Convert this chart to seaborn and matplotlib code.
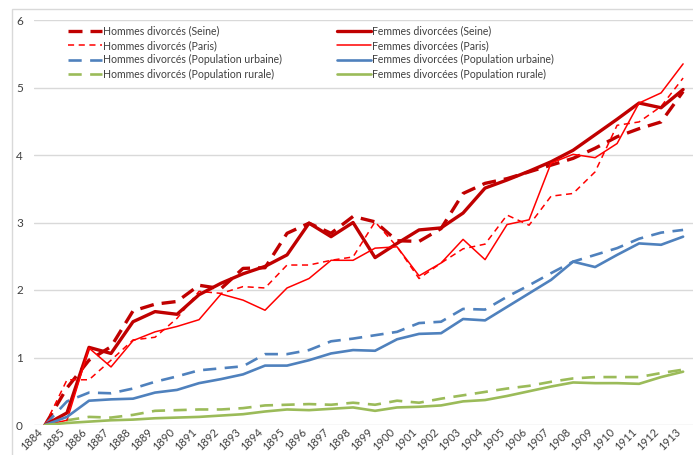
import pandas as pd
import matplotlib.pyplot as plt
import seaborn as sns
from matplotlib.patches import Rectangle

# 1. Datos (taux de divorcés)
annees = list(range(1884, 1914))

hommes_seine = [0, 0.55, 0.96, 1.16, 1.69, 1.79, 1.83, 2.07, 2.02, 2.32,
                2.33, 2.84, 2.99, 2.84, 3.09, 3.01, 2.73, 2.72, 2.91, 3.43,
                3.58, 3.65, 3.75, 3.85, 3.95, 4.10, 4.27, 4.39, 4.49, 4.94]
femmes_seine = [0, 0.18, 1.15, 1.06, 1.53, 1.68, 1.64, 1.93, 2.10, 2.24,
                2.35, 2.52, 2.99, 2.79, 3.00, 2.48, 2.69, 2.89, 2.92, 3.14,
                3.51, 3.63, 3.76, 3.90, 4.07, 4.30, 4.53, 4.77, 4.70, 4.97]
hommes_paris = [0, 0.67, 0.67, 0.96, 1.26, 1.30, 1.58, 1.98, 1.95, 2.05,
                2.03, 2.37, 2.37, 2.44, 2.49, 3.01, 2.64, 2.17, 2.40, 2.61,
                2.68, 3.11, 2.96, 3.39, 3.43, 3.75, 4.44, 4.49, 4.72, 5.14]
femmes_paris = [0, 0.07, 1.14, 0.86, 1.25, 1.38, 1.46, 1.56, 1.94, 1.85,
                1.70, 2.03, 2.17, 2.44, 2.44, 2.62, 2.64, 2.21, 2.40, 2.75,
                2.45, 2.97, 3.04, 3.88, 4.01, 3.96, 4.17, 4.77, 4.92, 5.35]
hommes_urbaine = [0, 0.35, 0.48, 0.47, 0.54, 0.64, 0.72, 0.81, 0.84, 0.87,
                  1.05, 1.05, 1.11, 1.24, 1.28, 1.33, 1.38, 1.51, 1.53, 1.72,
                  1.71, 1.90, 2.07, 2.25, 2.42, 2.52, 2.62, 2.76, 2.85, 2.89]
femmes_urbaine = [0, 0.12, 0.36, 0.38, 0.39, 0.48, 0.52, 0.62, 0.68, 0.75,
                  0.88, 0.88, 0.96, 1.06, 1.11, 1.10, 1.27, 1.35, 1.36, 1.57,
                  1.55, 1.75, 1.95, 2.15, 2.42, 2.34, 2.52, 2.69, 2.67, 2.79]
hommes_rurale = [0, 0.07, 0.12, 0.11, 0.15, 0.21, 0.22, 0.23, 0.23, 0.25,
                 0.29, 0.30, 0.31, 0.30, 0.33, 0.30, 0.36, 0.33, 0.39, 0.44,
                 0.49, 0.54, 0.58, 0.64, 0.69, 0.71, 0.71, 0.71, 0.77, 0.82]
femmes_rurale = [0, 0.03, 0.05, 0.07, 0.08, 0.10, 0.11, 0.12, 0.14, 0.16,
                 0.20, 0.23, 0.22, 0.24, 0.26, 0.21, 0.26, 0.27, 0.29, 0.35,
                 0.37, 0.43, 0.50, 0.57, 0.63, 0.62, 0.62, 0.61, 0.71, 0.79]

# 2. Series: (nom, valeurs, couleur, largeur, tirets)
rojo_oscuro = "#C00000"
rojo = "#FF0000"
azul = "#4F81BD"
verde = "#9BBB59"

series = [
    ("Hommes divorcés (Seine)", hommes_seine, rojo_oscuro, 2.4, (4.2, 2.4)),
    ("Hommes divorcés (Paris)", hommes_paris, rojo, 1.1, (4.0, 3.0)),
    ("Hommes divorcés (Population urbaine)", hommes_urbaine, azul, 1.9, (5.0, 3.2)),
    ("Hommes divorcés (Population rurale)", hommes_rurale, verde, 1.9, (5.0, 3.2)),
    ("Femmes divorcées (Seine)", femmes_seine, rojo_oscuro, 2.4, None),
    ("Femmes divorcées (Paris)", femmes_paris, rojo, 1.1, None),
    ("Femmes divorcées (Population urbaine)", femmes_urbaine, azul, 1.9, None),
    ("Femmes divorcées (Population rurale)", femmes_rurale, verde, 1.9, None),
]

# 3. Configuracion general
sns.set_theme(style="white")
plt.rcParams["font.family"] = ["Lato", "DejaVu Sans"]

fig = plt.figure(figsize=(6.93, 4.55), dpi=100)
ax = fig.add_axes([34 / 693, 1 - 425 / 455, 1 - 34 / 693, (425 - 20) / 455])

# cadre extérieur du graphique
fig.patches.append(Rectangle((12 / 693, -0.1), 1.2, 1 - 9 / 455 + 0.1,
                             transform=fig.transFigure, fill=False,
                             edgecolor="#D9D9D9", linewidth=1.0))

for nombre, valores, color, lw, dash in series:
    df = pd.DataFrame({"annee": annees, "valeur": valores})
    sns.lineplot(data=df, x="annee", y="valeur", ax=ax, color=color,
                 linewidth=lw, label=nombre)
    if dash is not None:
        ax.lines[-1].set_dashes(dash)

ax.set_xlim(1883.5, 1913.45)
ax.set_ylim(0, 6)
ax.set_xticks(annees)
ax.set_xticklabels([str(a) for a in annees], rotation=45, ha="right",
                   fontsize=8, color="#404040")
ax.set_yticks(range(0, 7))
ax.set_yticklabels([str(v) for v in range(0, 7)], fontsize=8.5, color="#404040")
ax.tick_params(axis="both", length=0)
ax.tick_params(axis="y", pad=8)
ax.tick_params(axis="x", pad=1)
ax.set_xlabel("")
ax.set_ylabel("")
ax.grid(axis="y", color="#D9D9D9", linewidth=1.0)
ax.grid(axis="x", visible=False)
for lado in ["top", "right", "left", "bottom"]:
    ax.spines[lado].set_visible(False)

leg = ax.legend(ncol=2, loc="upper left", bbox_to_anchor=(0.045, 0.997),
                frameon=False, fontsize=7.6, handlelength=3.2, handletextpad=0.15,
                columnspacing=5.2, labelspacing=0.32, borderaxespad=0)
for t in leg.get_texts():
    t.set_color("#404040")

fig.savefig("out.png", dpi=100)
